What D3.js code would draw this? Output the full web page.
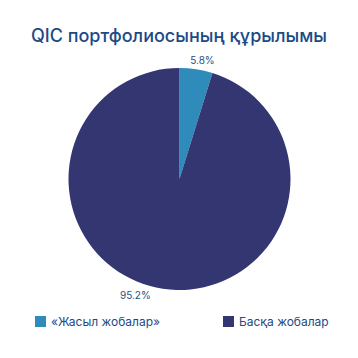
<!DOCTYPE html>
<html><head><meta charset="utf-8">
<script src="https://cdn.jsdelivr.net/npm/d3@7"></script>
<style>body{margin:0;background:#fff}svg{display:block}</style>
</head><body>
<script>
const categories = ["«Жасыл жобалар»", "Басқа жобалар"];
const values = [4.8, 95.2];
const valueLabels = ["5.8%", "95.2%"];
const colors = ["#2e8bba", "#333670"];
const titleText = "QIC портфолиосының құрылымы";

const W = 358, H = 358;
const svg = d3.select("body").append("svg").attr("width", W).attr("height", H);

svg.append("text").attr("x", W/2).attr("y", 42).attr("text-anchor", "middle")
  .attr("font-family", "Inter, 'Noto Sans', sans-serif").attr("font-size", 18)
  .attr("font-weight", 500).attr("fill", "#1c4a87").text(titleText);

const cx = 179.5, cy = 179, r = 111;
const pie = d3.pie().sort(null).value(d => d);
const arcs = pie(values);
const arc = d3.arc().innerRadius(0).outerRadius(r);
const g = svg.append("g").attr("transform", `translate(${cx},${cy})`);
g.selectAll("path").data(arcs).enter().append("path")
  .attr("d", arc).attr("fill", (d,i) => colors[i]);

// label angle nudges (rendering tweak)
const nudge = [0.04, 0.21];
g.selectAll("text.lbl").data(arcs).enter().append("text").attr("class","lbl")
  .attr("transform", (d,i) => {
    const a = (d.startAngle + d.endAngle)/2 + nudge[i];
    const rr = i === 0 ? 121 : 125;
    return `translate(${rr*Math.sin(a)},${-rr*Math.cos(a)})`;
  })
  .attr("text-anchor","middle").attr("dy","0.35em")
  .attr("font-family", "Inter, 'Noto Sans', sans-serif").attr("font-size", 10)
  .attr("fill", "#2b4f7e").text((d,i) => valueLabels[i]);

const legX = [35, 223];
const leg = svg.selectAll("g.leg").data(categories).enter().append("g")
  .attr("transform", (d,i) => `translate(${legX[i]},316)`);
leg.append("rect").attr("width", 11).attr("height", 11).attr("fill", (d,i) => colors[i]);
leg.append("text").attr("x", 16).attr("y", 10)
  .attr("font-family", "Inter, 'Noto Sans', sans-serif").attr("font-size", 12)
  .attr("fill", "#1c4a87").text(d => d);
</script>
</body></html>
